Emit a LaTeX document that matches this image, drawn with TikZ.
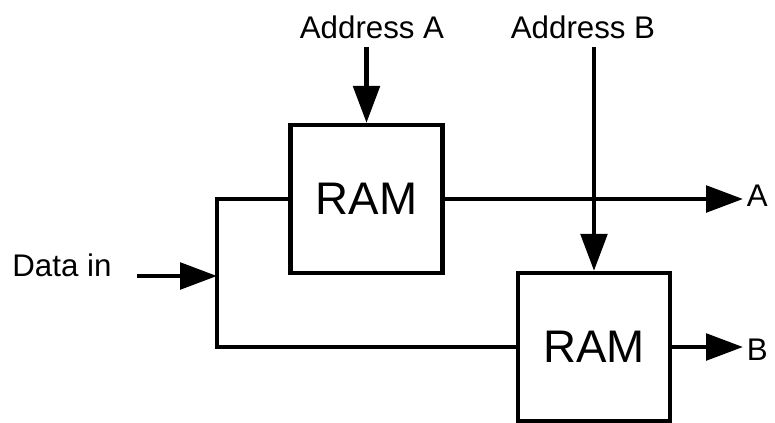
\documentclass[tikz,border=0pt]{standalone}
\usepackage{fontspec}
\setmainfont{Liberation Sans}
\usepackage{tikz}
\usetikzlibrary{arrows.meta}

\begin{document}
\begin{tikzpicture}[
  x=0.02cm, y=-0.02cm,
  wire/.style={line width=2.5pt, line join=miter},
  sig/.style={wire, -{Triangle[length=21pt, width=15pt]}},
  ram/.style={draw, line width=2.5pt, minimum width=3.04cm, minimum height=2.96cm, inner sep=0pt, font=\fontsize{26}{30}\selectfont},
  lbl/.style={font=\fontsize{17.8}{21}\selectfont, inner sep=2pt},
  addr/.style={lbl, anchor=south, inner sep=4.5pt}
]
\useasboundingbox (0,0) rectangle (775,423);

\node[ram] (ram1) at (366.5,199) {RAM};
\node[ram] (ram2) at (594,347) {RAM};

\node[addr] (addrA) at (372,47) {Address A};
\node[addr] (addrB) at (583,47) {Address B};
\node[lbl, anchor=base west, inner sep=0pt] (din) at (12,276) {Data in};
\node[lbl, anchor=west] (outA) at (743,196) {A};
\node[lbl, anchor=west] (outB) at (743,350) {B};
\coordinate (jn) at (217,276);

\draw[sig] (ram1.north |- addrA.south) -- (ram1.north);
\draw[sig] (ram2.north |- addrB.south) -- (ram2.north);
\draw[sig] ([xshift=0.5cm]din.base east) -- (jn);
\draw[wire] (ram1.west) -| (jn) |- (ram2.west);
\draw[sig] (ram1.east) -- (ram1.east -| outA.west);
\draw[sig] (ram2.east) -- (ram2.east -| outB.west);
\end{tikzpicture}
\end{document}
